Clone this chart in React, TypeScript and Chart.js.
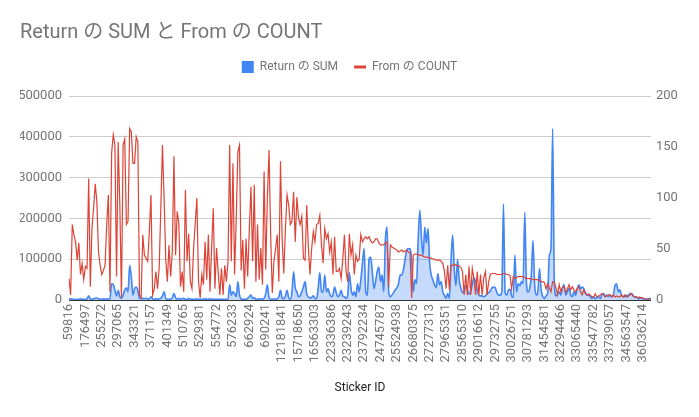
import { useEffect, useRef } from 'react';
import { Chart, registerables } from 'chart.js';

Chart.register(...registerables);

const FONT = "Roboto, 'Noto Sans CJK JP', sans-serif";
const BLUE = '#4285F4';
const RED = '#DB4437';

const chartTitle = 'Return の SUM と From の COUNT';
const seriesNames = ['Return の SUM', 'From の COUNT'];
const xTitle = 'Sticker ID';

const tickLabels = [
  '59816', '176497', '255272', '297065', '343321', '371157', '401349', '510765', '529381',
  '554772', '576233', '662924', '690241', '12181841', '15718650', '16563303', '22336386',
  '23239243', '23792234', '24745787', '25524938', '26680375', '27277313', '27965351',
  '28565310', '29016612', '29732755', '30026751', '30781293', '31454581', '32294466',
  '33065440', '33547782', '33739057', '34563547', '36036214',
];

const returnSum = [
  2000, 3000, 2000, 2000, 1000, 2000, 2000, 3000, 2000, 2000,
  2000, 3000, 10000, 3000, 2000, 3000, 4000, 5000, 3000, 2000,
  2000, 3000, 2000, 3000, 2000, 4000, 40000, 38000, 24000, 10000,
  24000, 8000, 4000, 12000, 25000, 30000, 20000, 85000, 57000, 12000,
  28000, 32000, 24000, 4000, 4000, 4000, 3000, 4000, 3000, 2000,
  8000, 3000, 2000, 3000, 2000, 3000, 4000, 10000, 20000, 4000,
  2000, 2000, 2000, 6000, 16000, 6000, 2000, 4000, 2000, 3000,
  4000, 2000, 2000, 4000, 2000, 2000, 2000, 2000, 3000, 2000,
  2000, 2000, 2000, 3000, 2000, 2000, 3000, 2000, 2000, 2000,
  2000, 2000, 2000, 2000, 2000, 2000, 2000, 2000, 37000, 12000,
  20000, 16000, 8000, 45000, 12000, 3000, 2000, 2000, 2000, 4000,
  8000, 12000, 4000, 6000, 2000, 2000, 3000, 3000, 2000, 4000,
  15000, 37000, 6000, 2000, 2000, 3000, 2000, 3000, 8000, 24000,
  5000, 3000, 10000, 24000, 5000, 2000, 20000, 69000, 30000, 20000,
  8000, 10000, 20000, 32000, 45000, 15000, 8000, 5000, 6000, 10000,
  4000, 3000, 30000, 67000, 20000, 20000, 61000, 20000, 28000, 15000,
  8000, 12000, 32000, 18000, 8000, 12000, 24000, 10000, 8000, 4000,
  12000, 67000, 30000, 12000, 20000, 8000, 40000, 20000, 50000, 90000,
  126000, 20000, 12000, 100000, 105000, 70000, 28000, 45000, 70000, 81000,
  45000, 61000, 20000, 150000, 179000, 20000, 8000, 12000, 18000, 25000,
  30000, 40000, 61000, 61000, 75000, 100000, 122000, 126000, 125000, 100000,
  20000, 50000, 40000, 150000, 220000, 150000, 110000, 179000, 140000, 175000,
  90000, 61000, 49000, 37000, 30000, 65000, 37000, 45000, 20000, 12000,
  4000, 16000, 4000, 94000, 159000, 77000, 35000, 100000, 50000, 30000,
  18000, 22000, 35000, 25000, 15000, 20000, 38000, 55000, 45000, 25000,
  12000, 10000, 10000, 8000, 10000, 16000, 18000, 22000, 30000, 32000,
  30000, 18000, 12000, 12000, 20000, 236000, 18000, 12000, 24000, 26000,
  10000, 6000, 110000, 20000, 40000, 35000, 45000, 40000, 215000, 45000,
  20000, 28000, 61000, 146000, 40000, 12000, 20000, 77000, 25000, 8000,
  4000, 10000, 18000, 110000, 125000, 420000, 50000, 10000, 15000, 20000,
  12000, 30000, 37000, 12000, 20000, 28000, 12000, 8000, 20000, 12000,
  28000, 37000, 28000, 32000, 28000, 16000, 12000, 12000, 8000, 4000,
  8000, 3000, 6000, 8000, 4000, 12000, 16000, 8000, 12000, 8000,
  12000, 8000, 12000, 35000, 40000, 20000, 25000, 12000, 8000, 8000,
  12000, 8000, 16000, 16000, 12000, 6000, 8000, 4000, 3000, 6000,
  3000, 2000, 2000, 2000, 4000, 2000,
];

const fromCount = [
  21, 5, 74, 64, 57, 39, 56, 25, 36, 20,
  33, 31, 119, 13, 70, 90, 114, 96, 47, 34,
  25, 29, 34, 74, 103, 8, 144, 162, 152, 23,
  155, 93, 2, 152, 158, 74, 77, 168, 165, 134,
  134, 160, 155, 5, 2, 64, 44, 41, 38, 67,
  103, 5, 11, 28, 11, 31, 90, 152, 100, 40,
  18, 54, 23, 47, 141, 44, 87, 75, 13, 28,
  8, 108, 38, 65, 18, 11, 51, 75, 100, 18,
  2, 25, 15, 57, 20, 64, 8, 51, 90, 11,
  51, 28, 5, 31, 5, 34, 18, 38, 152, 38,
  134, 25, 80, 145, 152, 29, 59, 11, 60, 23,
  70, 111, 38, 113, 18, 74, 20, 51, 15, 126,
  30, 100, 147, 64, 7, 38, 50, 64, 18, 136,
  60, 26, 70, 103, 93, 74, 77, 106, 57, 101,
  80, 74, 82, 41, 39, 93, 51, 25, 50, 67,
  57, 74, 75, 83, 54, 36, 70, 60, 65, 47,
  57, 25, 62, 28, 28, 31, 21, 40, 64, 28,
  18, 65, 44, 54, 25, 44, 38, 40, 64, 57,
  60, 62, 60, 62, 58, 56, 57, 60, 60, 56,
  54, 54, 54, 56, 57, 13, 54, 52, 51, 50,
  49, 47, 48, 49, 47, 48, 49, 47, 47, 2,
  44, 45, 45, 44, 44, 44, 43, 42, 42, 42,
  41, 41, 40, 40, 39, 39, 39, 38, 36, 28,
  11, 34, 10, 34, 34, 35, 34, 34, 33, 32,
  28, 5, 25, 5, 33, 5, 31, 21, 5, 28,
  5, 25, 5, 22, 28, 5, 18, 25, 26, 26,
  26, 25, 25, 25, 25, 26, 26, 25, 25, 24,
  11, 23, 21, 22, 23, 23, 23, 23, 22, 21,
  21, 21, 21, 20, 20, 20, 20, 19, 18, 18,
  17, 11, 16, 12, 8, 18, 17, 12, 5, 15,
  8, 12, 13, 7, 11, 15, 10, 13, 10, 8,
  11, 13, 8, 5, 10, 7, 5, 6, 5, 3,
  3, 6, 3, 4, 5, 6, 6, 3, 4, 5,
  5, 3, 5, 3, 4, 3, 3, 5, 3, 5,
  3, 4, 5, 6, 4, 3, 3, 2, 3, 2,
  2, 1, 1, 1, 1, 1,
];

const LABEL_EVERY = 10;
const categories = returnSum.map((_, i) =>
  i % LABEL_EVERY === 0 ? tickLabels[i / LABEL_EVERY] ?? '' : ''
);

const legendSpacer = {
  id: 'legendSpacer',
  beforeInit(chart: any) {
    const legend = chart.legend;
    if (!legend) return;
    const origFit = legend.fit;
    legend.fit = function () {
      origFit.call(this);
      this.height += 13;
    };
  },
};

export default function App() {
  const ref = useRef<HTMLCanvasElement | null>(null);

  useEffect(() => {
    if (!ref.current) return;
    Chart.defaults.font.family = FONT;
    const chart = new Chart(ref.current, {
      type: 'line',
      data: {
        labels: categories,
        datasets: [
          {
            label: seriesNames[0],
            data: returnSum,
            yAxisID: 'y',
            borderColor: BLUE,
            backgroundColor: 'rgba(66,133,244,0.3)',
            fill: 'origin',
            borderWidth: 1.6,
            pointRadius: 0,
            cubicInterpolationMode: 'monotone',
            order: 2,
          },
          {
            label: seriesNames[1],
            data: fromCount,
            yAxisID: 'y1',
            borderColor: RED,
            backgroundColor: RED,
            fill: false,
            borderWidth: 1.2,
            pointRadius: 0,
            tension: 0,
            order: 1,
          },
        ],
      },
      plugins: [legendSpacer],
      options: {
        responsive: false,
        animation: false,
        events: [],
        layout: { padding: { left: 20, right: 20, top: 0, bottom: 21 } },
        plugins: {
          title: {
            display: true,
            text: chartTitle,
            align: 'start',
            color: '#757575',
            font: { size: 20, weight: 'normal', family: FONT },
            padding: { top: 21, bottom: 0 },
          },
          legend: {
            display: true,
            position: 'top',
            align: 'center',
            labels: {
              usePointStyle: true,
              pointStyleWidth: 12,
              boxHeight: 12,
              padding: 16,
              color: '#757575',
              font: { size: 12, family: FONT },
              generateLabels: (c: any) => [
                {
                  text: c.data.datasets[0].label,
                  fillStyle: BLUE,
                  strokeStyle: BLUE,
                  lineWidth: 0,
                  pointStyle: 'rect',
                  datasetIndex: 0,
                  hidden: false,
                  fontColor: '#757575',
                },
                {
                  text: c.data.datasets[1].label,
                  fillStyle: RED,
                  strokeStyle: RED,
                  lineWidth: 3,
                  pointStyle: 'line',
                  datasetIndex: 1,
                  hidden: false,
                  fontColor: '#757575',
                },
              ],
            },
          },
          tooltip: { enabled: false },
        },
        scales: {
          x: {
            type: 'category',
            grid: { display: false, drawTicks: false },
            border: { display: false },
            ticks: {
              autoSkip: false,
              minRotation: 90,
              maxRotation: 90,
              padding: 4,
              color: '#757575',
              font: { size: 13, family: FONT },
              callback: (_v: any, i: number) => categories[i],
            },
            title: {
              display: true,
              text: xTitle,
              color: '#222222',
              font: { size: 12, family: FONT },
              padding: { top: 0, bottom: 1 },
            },
            afterFit: (s: any) => {
              s.height = 96;
            },
          },
          y: {
            position: 'left',
            min: 0,
            max: 500000,
            grid: {
              drawTicks: false,
              color: (ctx: any) => (ctx.tick && ctx.tick.value === 0 ? '#333333' : '#cccccc'),
              lineWidth: 1,
            },
            border: { display: false },
            ticks: {
              stepSize: 100000,
              padding: 7,
              color: '#757575',
              font: { size: 13, family: FONT },
              callback: (v: any) => String(v),
            },
            afterFit: (s: any) => {
              s.width = 49;
            },
          },
          y1: {
            position: 'right',
            min: 0,
            max: 200,
            grid: { drawOnChartArea: false, drawTicks: false },
            border: { display: false },
            ticks: {
              stepSize: 50,
              padding: 5,
              color: '#757575',
              font: { size: 13, family: FONT },
              callback: (v: any) => String(v),
            },
            afterFit: (s: any) => {
              s.width = 28;
            },
          },
        },
      },
    } as any);
    return () => chart.destroy();
  }, []);

  return (
    <div
      style={{
        position: 'absolute',
        left: 0,
        top: 0,
        width: 699,
        height: 417,
        background: '#ffffff',
      }}
    >
      <canvas ref={ref} width={699} height={417} style={{ width: 699, height: 417 }} />
    </div>
  );
}
